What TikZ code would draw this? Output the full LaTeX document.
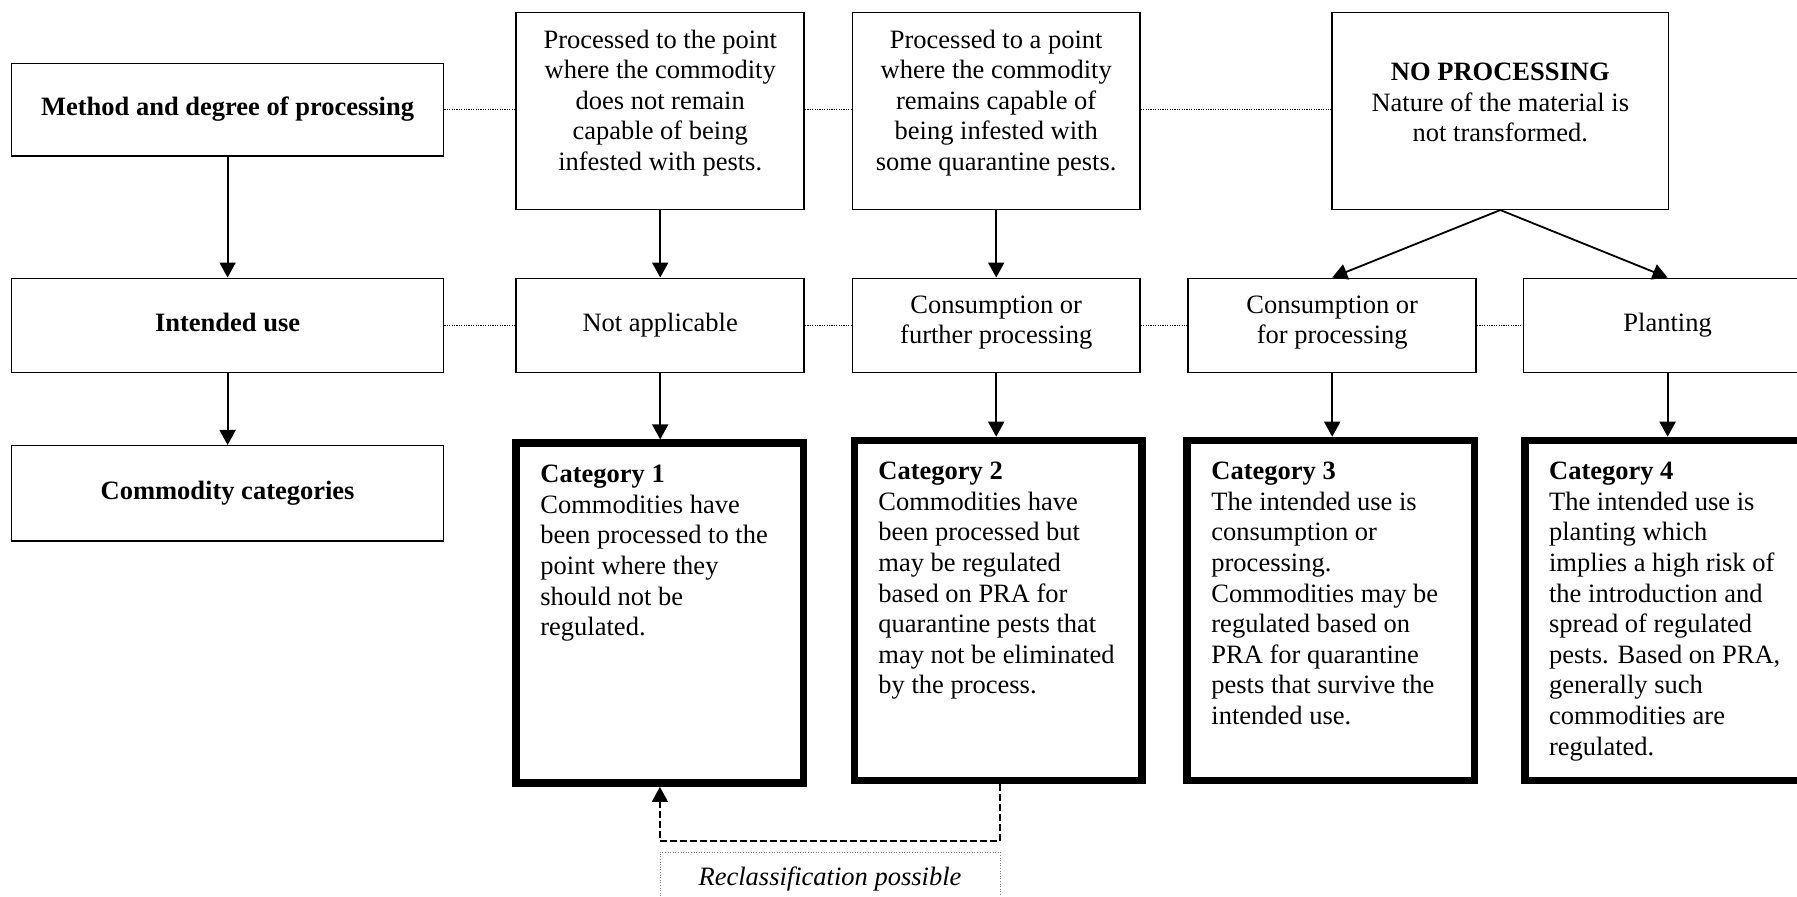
\documentclass[tikz,border=0pt]{standalone}
\usepackage{fontspec}
\setmainfont{Liberation Serif}
\usetikzlibrary{arrows.meta}
\begin{document}
\begin{tikzpicture}[x=0.5pt,y=-0.5pt,
  every node/.style={font=\fontsize{13.25pt}{15.3pt}\selectfont, inner sep=0pt},
  thinbox/.style={draw, line width=0.75pt, minimum width=144pt},
  catbox/.style={draw, line width=3.75pt, minimum width=143.75pt, minimum height=170pt},
  txt/.style={align=center},
  cattxt/.style={align=left, anchor=north west},
  arr/.style={-{Triangle[length=7.5pt,width=8pt]}, line width=0.9pt},
  dotline/.style={line width=0.6pt, dash pattern=on 0.6pt off 0.6pt},
  dasharr/.style={-{Triangle[length=7.5pt,width=8pt]}, line width=0.85pt, dash pattern=on 3.3pt off 1.7pt},
]
\useasboundingbox (0,0) rectangle (1797,897);

% row 1
\node[thinbox, minimum width=216pt, minimum height=46.2pt] (method) at (227.6,109.8) {\strut\textbf{Method and degree of processing}};
\node[thinbox, minimum height=98.3pt] (p1) at (660.2,111) {};
\node[txt, anchor=north] (p1t) at (660.2,26.3) {\strut Processed to the point\\where the commodity\\does not remain\\capable of being\\infested with pests.};
\node[thinbox, minimum width=143.75pt, minimum height=98.3pt] (p2) at (996.2,111) {};
\node[txt, anchor=north] (p2t) at (996.2,26.3) {\strut Processed to a point\\where the commodity\\remains capable of\\being infested with\\some quarantine pests.};
\node[thinbox, minimum width=168.35pt, minimum height=98.3pt] (np) at (1500.3,111) {};
\node[txt, anchor=north] (npt) at (1500.3,58.6) {\strut\textbf{NO PROCESSING}\\Nature of the material is\\not transformed.};

% row 2
\node[thinbox, minimum width=216pt, minimum height=47.2pt] (use) at (227.6,325.5) {\strut\textbf{Intended use}};
\node[thinbox, minimum height=47.2pt] (na) at (660.2,325.5) {\strut Not applicable};
\node[thinbox, minimum width=143.75pt, minimum height=47.2pt, txt] (cf) at (996.2,325.5) {\strut Consumption or\\further processing\rule[-7.6pt]{0pt}{1pt}};
\node[thinbox, minimum height=47.2pt, txt] (cp) at (1332.2,325.5) {\strut Consumption or\\for processing\rule[-7.6pt]{0pt}{1pt}};
\node[thinbox, minimum height=47.2pt] (pl) at (1667.6,325.5) {\strut Planting};

% row 3
\node[thinbox, minimum width=216pt, minimum height=47.65pt] (cc) at (227.6,493.4) {\strut\textbf{Commodity categories}};
\node[catbox] (c1) at (659.9,613.15) {};
\node[catbox] (c2) at (998,610.5) {};
\node[catbox] (c3) at (1330.65,610.5) {};
\node[catbox] (c4) at (1668.5,610.5) {};

\node[cattxt] (c1t) at (540,460.9) {\strut\textbf{Category 1}\\Commodities have\\been processed to the\\point where they\\should not be\\regulated.};
\node[cattxt] (c2t) at (878,457.9) {\strut\textbf{Category 2}\\Commodities have\\been processed but\\may be regulated\\based on PRA for\\quarantine pests that\\may not be eliminated\\by the process.};
\node[cattxt] (c3t) at (1211,457.9) {\strut\textbf{Category 3}\\The intended use is\\consumption or\\processing.\\Commodities may be\\regulated based on\\PRA for quarantine\\pests that survive the\\intended use.};
\node[cattxt] (c4t) at (1548.7,457.9) {\strut\textbf{Category 4}\\The intended use is\\planting which\\implies a high risk of\\the introduction and\\spread of regulated\\pests. Based on PRA,\\generally such\\commodities are\\regulated.};

% reclassification
\node[draw=gray, line width=0.4pt, dash pattern=on 0.5pt off 0.8pt, minimum width=170pt, minimum height=27pt] (rc) at (830,879) {\strut\textit{Reclassification possible}};

% arrows
\draw[arr] (method.south) -- (use.north);
\draw[arr] (use.south) -- (cc.north);
\draw[arr] (p1.south) -- (na.north);
\draw[arr] (na.south) -- (na.south |- c1.north);
\draw[arr] (p2.south) -- (cf.north);
\draw[arr] (cf.south) -- (cf.south |- c2.north);
\draw[arr] (np.south) -- (cp.north);
\draw[arr] (np.south) -- (pl.north);
\draw[arr] (cp.south) -- (cp.south |- c3.north);
\draw[arr] (pl.south) -- (pl.south |- c4.north);

% dotted links
\draw[dotline] (method.east) -- (method.east -| p1.west);
\draw[dotline] (p1.east |- method.east) -- (p2.west |- method.east);
\draw[dotline] (p2.east |- method.east) -- (np.west |- method.east);
\draw[dotline] (use.east) -- (na.west);
\draw[dotline] (na.east) -- (cf.west);
\draw[dotline] (cf.east) -- (cp.west);
\draw[dotline] (cp.east) -- (pl.west);

% reclassification path
\coordinate (bendR) at (1000,841);
\coordinate (bendL) at (c1.south |- bendR);
\draw[dasharr] (bendR |- c2.south) -- (bendR) -- (bendL) -- (c1.south);
\end{tikzpicture}
\end{document}
